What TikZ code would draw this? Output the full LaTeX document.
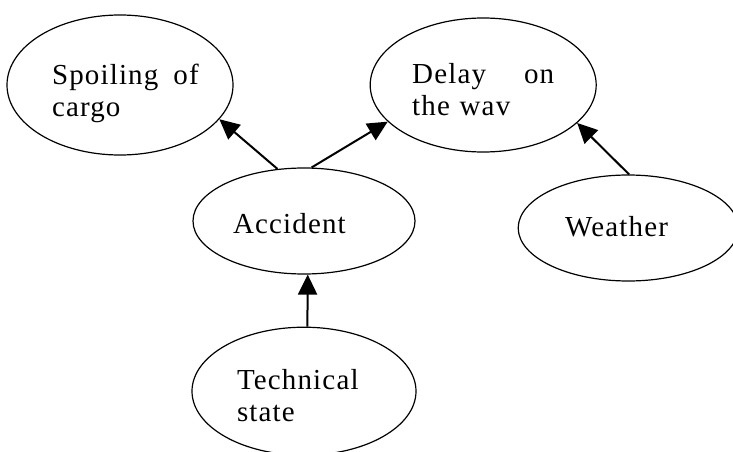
\documentclass[tikz,border=0pt]{standalone}
\usepackage{fontspec}
\setmainfont{Liberation Serif}[LetterSpace=4]
\usetikzlibrary{positioning, arrows.meta, shapes.geometric}

\begin{document}
\begin{tikzpicture}[x=1pt, y=-1pt, >={Triangle[length=20pt, width=19pt]},
    event/.style={ellipse, draw, line width=1.2pt, inner sep=0pt, align=left,
      font=\fontsize{29}{32}\selectfont}]
            \clip (0,0) rectangle (733,452);
            \node[event, minimum width=226pt, minimum height=140pt, text width=136pt, text height=38pt] (spoil) at (120,85) {\mbox{Spoiling\hspace{15pt}of}\\cargo};
            \node[event, minimum width=226pt, minimum height=134pt, text width=142pt, text height=30pt] (delay) [right = 136pt of spoil] {Delay\hfill on\\the wav};
            \node[event, minimum width=222pt, minimum height=106pt, text width=142pt, text height=25pt] (acc) at (304,221) {Accident};
            \node[event, minimum width=220pt, minimum height=106pt, text width=126pt, text height=18pt] (weather) [right = 102pt of acc, yshift=-7pt] {Weather};
            \node[event, minimum width=224pt, minimum height=128pt, text width=134pt, text height=28pt] (tech) [below = 52pt of acc] {Technical\\state};

            \path[->, line width=2pt]
              (acc.117) edge (spoil.-19)
              (acc.82) edge (delay.201)
              (weather.89) edge (delay.-22)
              (tech.87) edge (acc.-86)
            ;
          \end{tikzpicture}
\end{document}
